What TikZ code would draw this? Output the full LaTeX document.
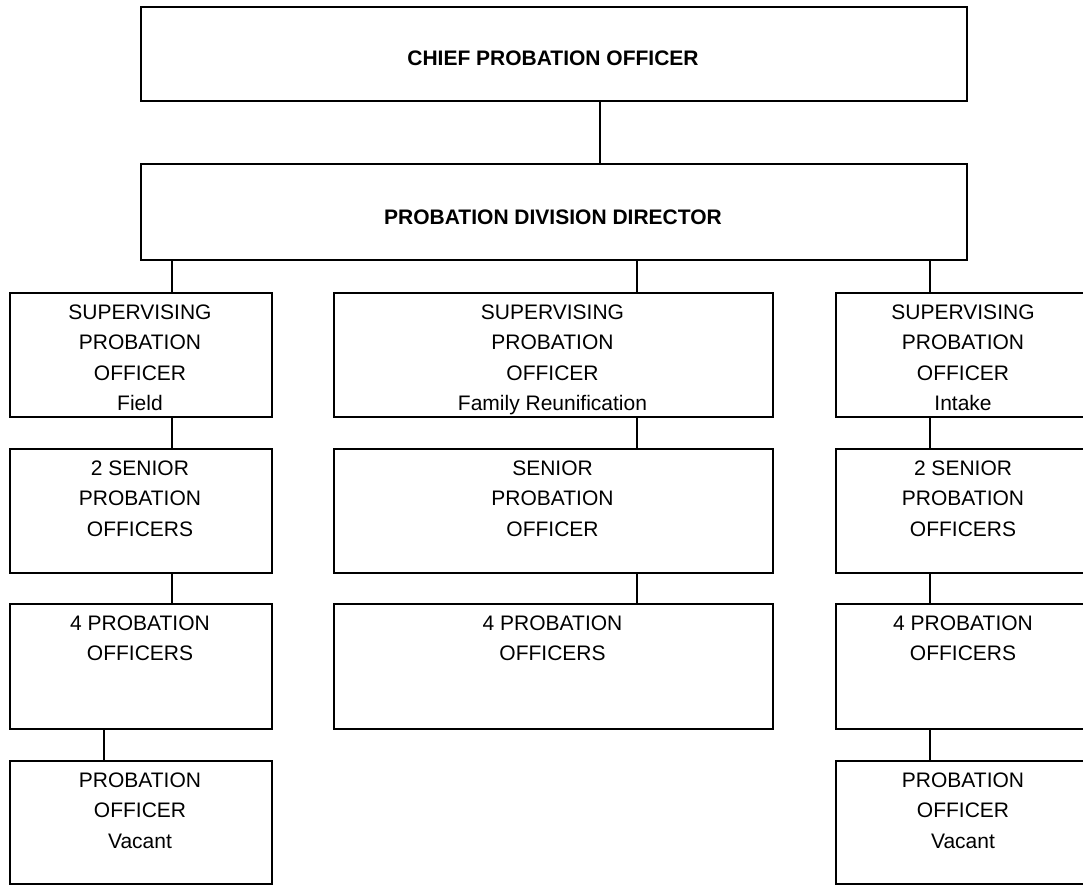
\documentclass[tikz,border=0pt]{standalone}
\usepackage{fontspec}
\setmainfont{Liberation Sans}
\begin{document}
\begin{tikzpicture}[x=1pt,y=-1pt,
  box/.style={draw,line width=1.8pt,inner sep=0pt,anchor=north west},
  txt/.style={inner sep=0pt,align=center,font=\fontsize{21}{30.6}\selectfont,anchor=base},
  ttl/.style={inner sep=0pt,font=\fontsize{21}{25}\selectfont\bfseries,anchor=base},
  link/.style={line width=1.8pt}]
\useasboundingbox (0,0) rectangle (1083,884);
\begin{scope}
\clip (0,0) rectangle (1083,884);
% top boxes
\node[box,minimum width=826pt,minimum height=94pt] (chief) at (140,6) {};
\node[ttl] (chieft) at (553,65) {CHIEF PROBATION OFFICER};
\node[box,minimum width=826pt,minimum height=96pt] (dir) at (140,163) {};
\node[ttl] (dirt) at (553,224) {PROBATION DIVISION DIRECTOR};
% left column (base = baseline of last line)
\node[box,minimum width=262pt,minimum height=124pt] (l1) at (9,292) {};
\node[txt] (l1t) at (140,410.8) {SUPERVISING\\PROBATION\\OFFICER\\Field};
\node[box,minimum width=262pt,minimum height=124pt] (l2) at (9,448) {};
\node[txt] (l2t) at (140,536.2) {2 SENIOR\\PROBATION\\OFFICERS};
\node[box,minimum width=262pt,minimum height=125pt] (l3) at (9,603) {};
\node[txt] (l3t) at (140,660.6) {4 PROBATION\\OFFICERS};
\node[box,minimum width=262pt,minimum height=123pt] (l4) at (9,760) {};
\node[txt] (l4t) at (140,848.2) {PROBATION\\OFFICER\\Vacant};
% middle column
\node[box,minimum width=439pt,minimum height=124pt] (m1) at (333,292) {};
\node[txt] (m1t) at (552.5,410.8) {SUPERVISING\\PROBATION\\OFFICER\\Family Reunification};
\node[box,minimum width=439pt,minimum height=124pt] (m2) at (333,448) {};
\node[txt] (m2t) at (552.5,536.2) {SENIOR\\PROBATION\\OFFICER};
\node[box,minimum width=439pt,minimum height=125pt] (m3) at (333,603) {};
\node[txt] (m3t) at (552.5,660.6) {4 PROBATION\\OFFICERS};
% right column
\node[box,minimum width=256pt,minimum height=124pt] (r1) at (835,292) {};
\node[txt] (r1t) at (963,410.8) {SUPERVISING\\PROBATION\\OFFICER\\Intake};
\node[box,minimum width=256pt,minimum height=124pt] (r2) at (835,448) {};
\node[txt] (r2t) at (963,536.2) {2 SENIOR\\PROBATION\\OFFICERS};
\node[box,minimum width=256pt,minimum height=125pt] (r3) at (835,603) {};
\node[txt] (r3t) at (963,660.6) {4 PROBATION\\OFFICERS};
\node[box,minimum width=256pt,minimum height=123pt] (r4) at (835,760) {};
\node[txt] (r4t) at (963,848.2) {PROBATION\\OFFICER\\Vacant};
% connectors
\draw[link] (chief.south -| 600,0) -- (dir.north -| 600,0);
\draw[link] (dir.south -| 172,0) -- (l1.north -| 172,0);
\draw[link] (dir.south -| 637,0) -- (m1.north -| 637,0);
\draw[link] (dir.south -| 930,0) -- (r1.north -| 930,0);
\draw[link] (l1.south -| 172,0) -- (l2.north -| 172,0);
\draw[link] (l2.south -| 172,0) -- (l3.north -| 172,0);
\draw[link] (l3.south -| 104,0) -- (l4.north -| 104,0);
\draw[link] (m1.south -| 637,0) -- (m2.north -| 637,0);
\draw[link] (m2.south -| 637,0) -- (m3.north -| 637,0);
\draw[link] (r1.south -| 930,0) -- (r2.north -| 930,0);
\draw[link] (r2.south -| 930,0) -- (r3.north -| 930,0);
\draw[link] (r3.south -| 930,0) -- (r4.north -| 930,0);
\end{scope}
\end{tikzpicture}
\end{document}
